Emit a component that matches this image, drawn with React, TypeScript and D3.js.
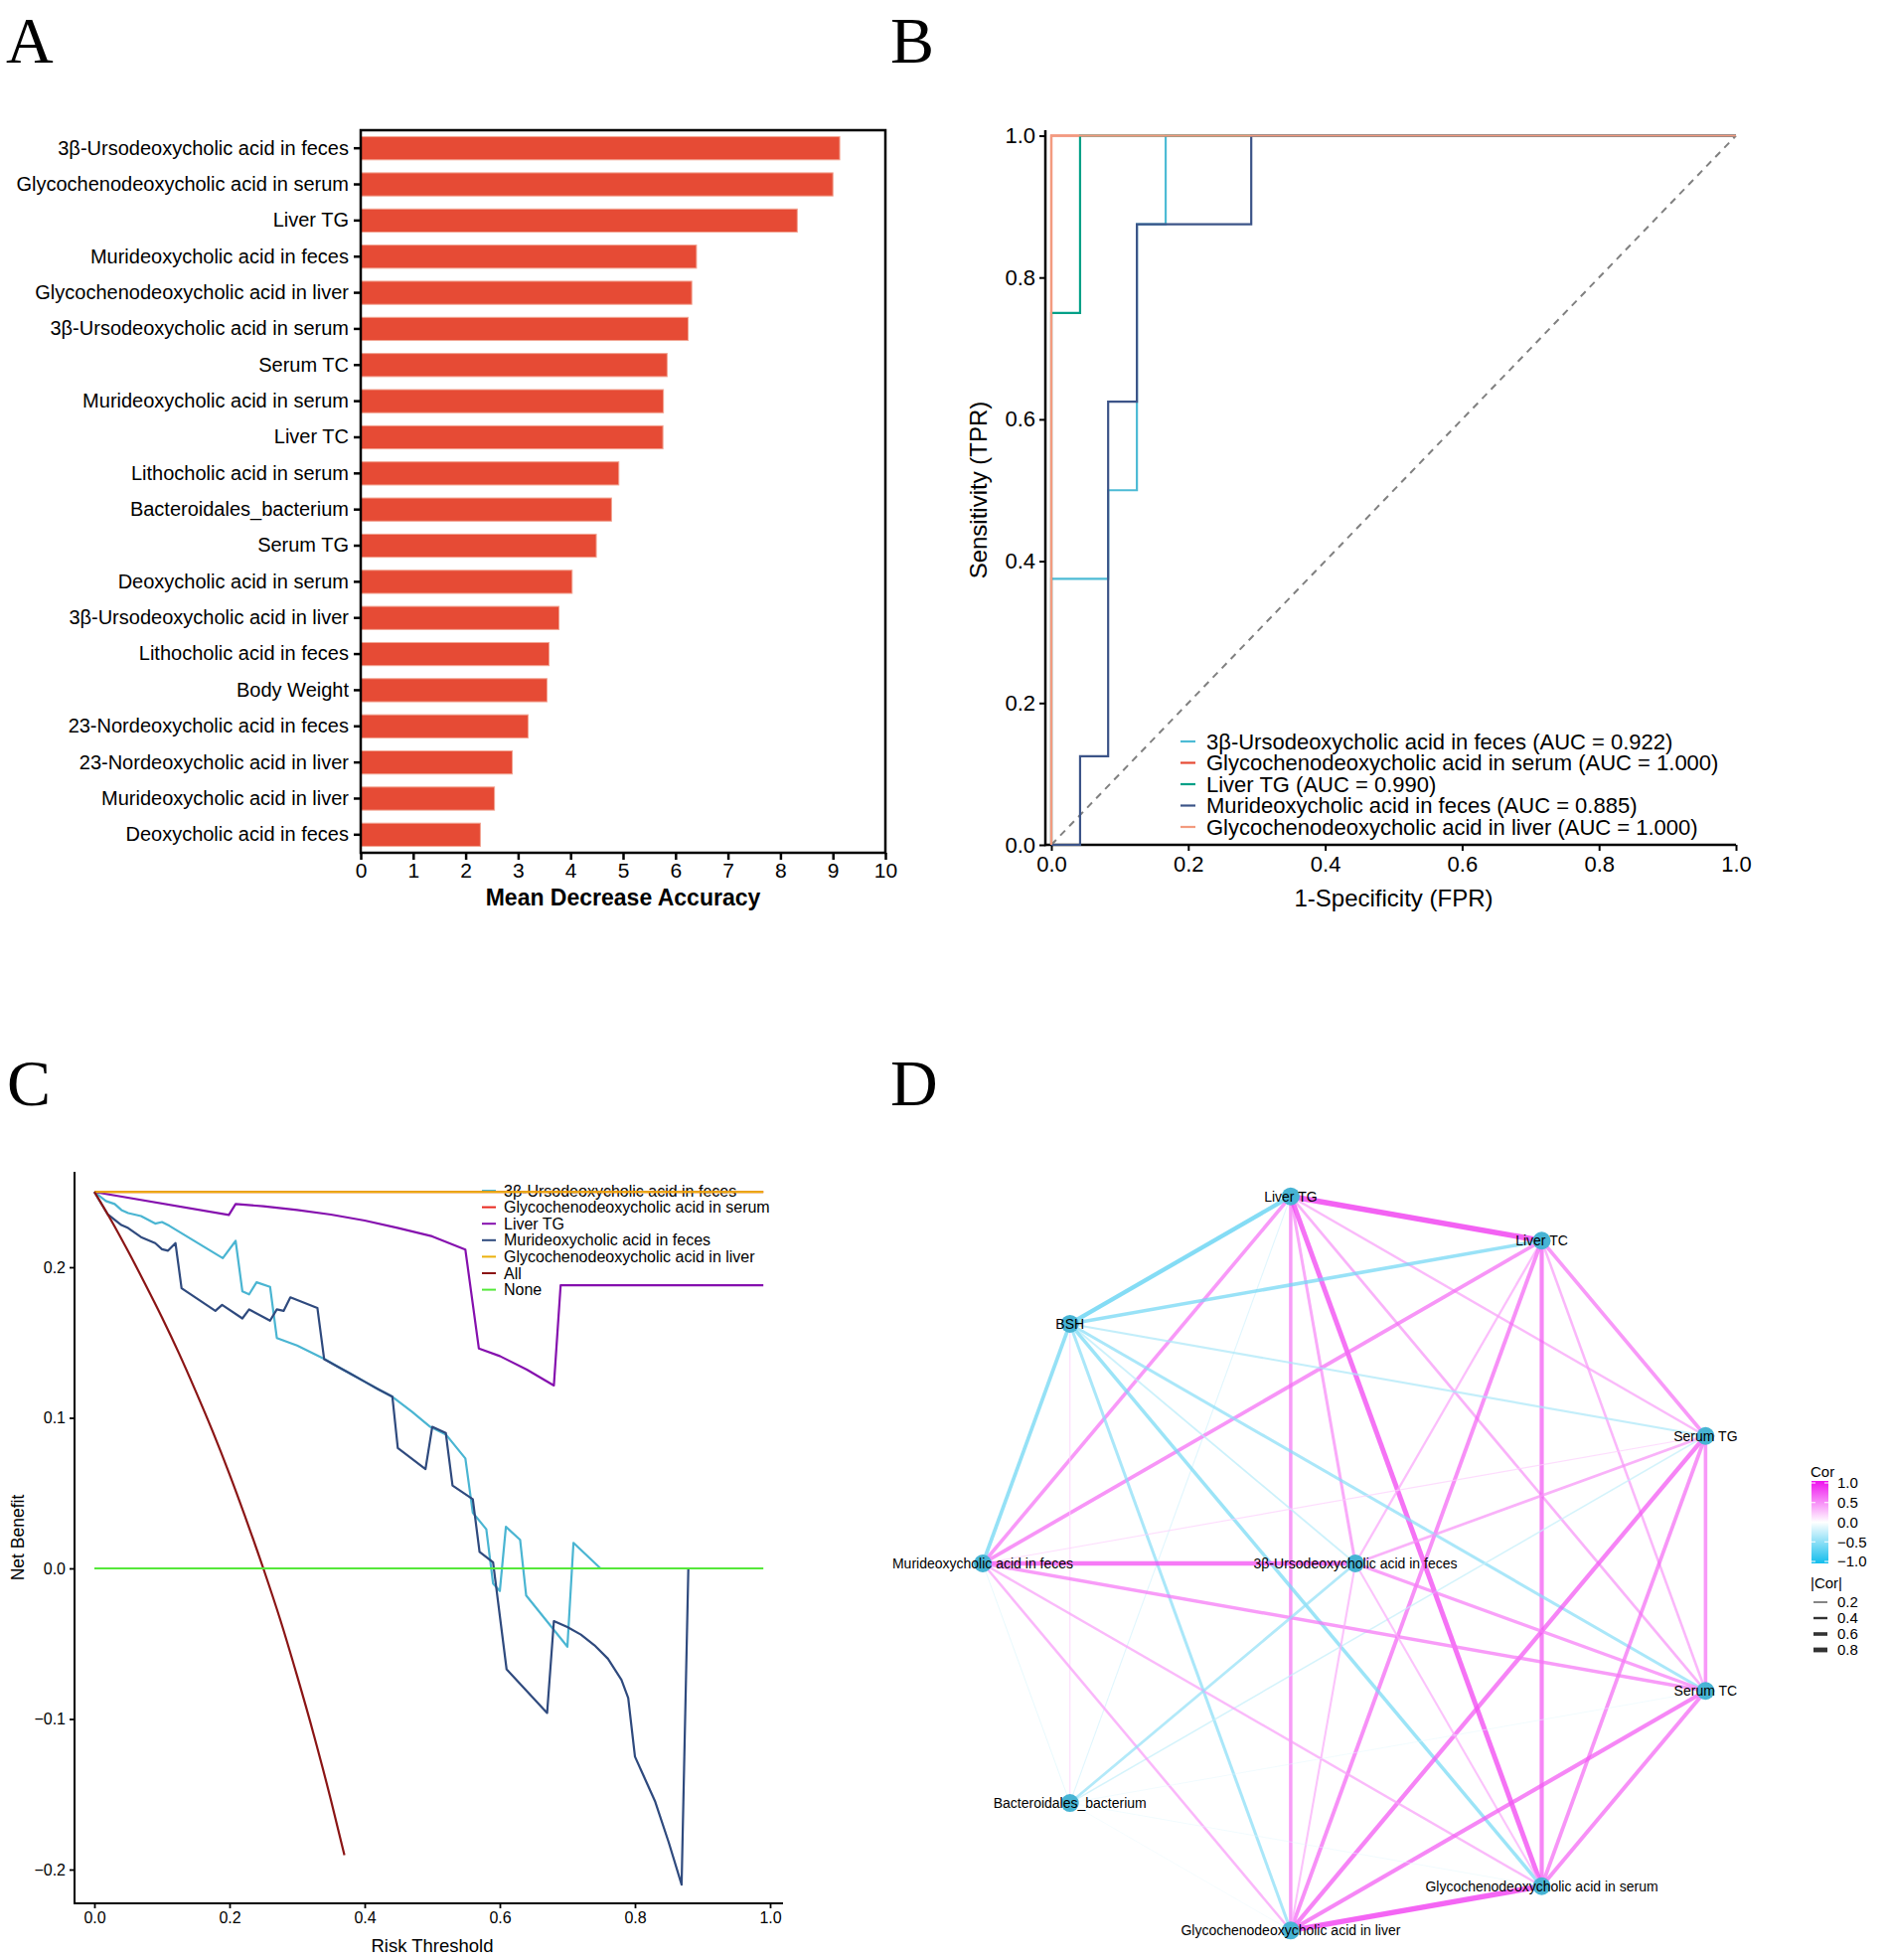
import React, { useRef, useEffect } from 'react';
import * as d3 from 'd3';

const FONT = '"Liberation Sans", Arial, Helvetica, sans-serif';
const SERIF = '"Liberation Serif", "Times New Roman", serif';

// ---- Panel A: random forest importance ----
const featureNames = [
    '3β-Ursodeoxycholic acid in feces',
    'Glycochenodeoxycholic acid in serum',
    'Liver TG',
    'Murideoxycholic acid in feces',
    'Glycochenodeoxycholic acid in liver',
    '3β-Ursodeoxycholic acid in serum',
    'Serum TC',
    'Murideoxycholic acid in serum',
    'Liver TC',
    'Lithocholic acid in serum',
    'Bacteroidales_bacterium',
    'Serum TG',
    'Deoxycholic acid in serum',
    '3β-Ursodeoxycholic acid in liver',
    'Lithocholic acid in feces',
    'Body Weight',
    '23-Nordeoxycholic acid in feces',
    '23-Nordeoxycholic acid in liver',
    'Murideoxycholic acid in liver',
    'Deoxycholic acid in feces',
];
const featureImportance = [9.13, 9.0, 8.32, 6.4, 6.31, 6.24, 5.84, 5.77, 5.76, 4.92, 4.78, 4.49, 4.03, 3.78, 3.59, 3.55, 3.19, 2.89, 2.55, 2.28];
const importanceTicks = [0, 1, 2, 3, 4, 5, 6, 7, 8, 9, 10];

// ---- Panel B: ROC ----
const rocNames = [
    '3β-Ursodeoxycholic acid in feces',
    'Glycochenodeoxycholic acid in serum',
    'Liver TG',
    'Murideoxycholic acid in feces',
    'Glycochenodeoxycholic acid in liver',
];
const rocAuc = ['0.922', '1.000', '0.990', '0.885', '1.000'];
const rocColors = ['#4DBBD5', '#E64B35', '#00A087', '#3C5488', '#F39B7F'];
const rocFpr = [
    [0, 0, 0.083, 0.083, 0.125, 0.125, 0.167, 0.167, 1],
    [0, 0, 1],
    [0, 0, 0.042, 0.042, 1],
    [0, 0.042, 0.042, 0.083, 0.083, 0.125, 0.125, 0.292, 0.292, 1],
    [0, 0, 1],
];
const rocTpr = [
    [0, 0.375, 0.375, 0.5, 0.5, 0.875, 0.875, 1, 1],
    [0, 1, 1],
    [0, 0.75, 0.75, 1, 1],
    [0, 0, 0.125, 0.125, 0.625, 0.625, 0.875, 0.875, 1, 1],
    [0, 1, 1],
];
const rocTicks = [0, 0.2, 0.4, 0.6, 0.8, 1.0];

// ---- Panel C: decision curves ----
const dcaNames = [
    '3β-Ursodeoxycholic acid in feces',
    'Glycochenodeoxycholic acid in serum',
    'Liver TG',
    'Murideoxycholic acid in feces',
    'Glycochenodeoxycholic acid in liver',
    'All',
    'None',
];
const dcaColors = ['#4AB5D2', '#E8281E', '#8510AE', '#2F4A7E', '#EBB10C', '#8B1515', '#55E83A'];
const dcaThreshold = [
    [0, 0.017, 0.03, 0.04, 0.05, 0.069, 0.09, 0.1, 0.111, 0.19, 0.209, 0.219, 0.229, 0.24, 0.26, 0.27, 0.3, 0.341, 0.36, 0.38, 0.4, 0.42, 0.441, 0.47, 0.497, 0.52, 0.549, 0.56, 0.58, 0.59, 0.6, 0.609, 0.63, 0.639, 0.7, 0.709, 0.749],
    [0, 0.99],
    [0, 0.199, 0.209, 0.25, 0.3, 0.35, 0.4, 0.45, 0.5, 0.549, 0.569, 0.6, 0.64, 0.68, 0.69, 0.99],
    [0, 0.02, 0.04, 0.05, 0.069, 0.09, 0.1, 0.109, 0.12, 0.129, 0.179, 0.189, 0.219, 0.229, 0.26, 0.27, 0.28, 0.29, 0.33, 0.34, 0.36, 0.38, 0.4, 0.42, 0.441, 0.449, 0.49, 0.5, 0.52, 0.53, 0.56, 0.57, 0.59, 0.61, 0.67, 0.68, 0.7, 0.72, 0.74, 0.76, 0.78, 0.79, 0.8, 0.81, 0.83, 0.85, 0.869, 0.879],
    [0, 0.99],
    [0, 0.025, 0.05, 0.075, 0.1, 0.125, 0.15, 0.175, 0.2, 0.225, 0.25, 0.275, 0.3, 0.325, 0.35, 0.37],
    [0, 0.99],
];
const dcaBenefit = [
    [0.25, 0.244, 0.242, 0.238, 0.236, 0.234, 0.229, 0.23, 0.2275, 0.206, 0.2175, 0.184, 0.182, 0.19, 0.187, 0.153, 0.148, 0.139, 0.134, 0.129, 0.124, 0.119, 0.114, 0.104, 0.094, 0.089, 0.073, 0.037, 0.026, -0.01, -0.015, 0.0276, 0.019, -0.018, -0.052, 0.017, 0],
    [0.25, 0.25],
    [0.25, 0.2347, 0.242, 0.2405, 0.238, 0.235, 0.231, 0.226, 0.2205, 0.2117, 0.146, 0.141, 0.132, 0.1215, 0.188, 0.188],
    [0.25, 0.235, 0.228, 0.226, 0.22, 0.216, 0.212, 0.211, 0.216, 0.186, 0.171, 0.175, 0.166, 0.172, 0.1645, 0.172, 0.171, 0.18, 0.173, 0.139, 0.134, 0.129, 0.124, 0.119, 0.114, 0.08, 0.066, 0.094, 0.09, 0.055, 0.046, 0.011, 0.004, -0.067, -0.096, -0.035, -0.039, -0.044, -0.051, -0.06, -0.074, -0.086, -0.125, -0.135, -0.155, -0.182, -0.21, 0],
    [0.25, 0.25],
    [0.25, 0.231, 0.2105, 0.189, 0.1667, 0.143, 0.1176, 0.091, 0.0625, 0.032, 0, -0.034, -0.0714, -0.111, -0.1538, -0.1905],
    [0, 0],
];
const dcaXTicks = [0, 0.2, 0.4, 0.6, 0.8, 1.0];
const dcaYTicks = [-0.2, -0.1, 0, 0.1, 0.2];

// ---- Panel D: correlation network ----
const ringNodes = [
    'Liver TG',
    'Liver TC',
    'Serum TG',
    'Serum TC',
    'Glycochenodeoxycholic acid in serum',
    'Glycochenodeoxycholic acid in liver',
    'Bacteroidales_bacterium',
    'Murideoxycholic acid in feces',
    'BSH',
];
const centerNode = '3β-Ursodeoxycholic acid in feces';
const edgeFrom = [
    'Liver TG', 'Liver TG', 'Liver TG', 'Liver TG', 'Liver TG', 'Liver TG', 'Liver TG', 'Liver TG', 'Liver TG',
    'Liver TC', 'Liver TC', 'Liver TC', 'Liver TC', 'Liver TC', 'Liver TC', 'Liver TC',
    'BSH', 'BSH', 'BSH', 'BSH', 'BSH', 'BSH', 'BSH',
    'Serum TG', 'Serum TG', 'Serum TG', 'Serum TG', 'Serum TG', 'Serum TG',
    'Murideoxycholic acid in feces', 'Murideoxycholic acid in feces', 'Murideoxycholic acid in feces', 'Murideoxycholic acid in feces', 'Murideoxycholic acid in feces',
    centerNode, centerNode, centerNode, centerNode,
    'Serum TC', 'Serum TC', 'Serum TC',
    'Bacteroidales_bacterium', 'Bacteroidales_bacterium',
    'Glycochenodeoxycholic acid in serum',
];
const edgeTo = [
    'Liver TC', 'BSH', 'Murideoxycholic acid in feces', 'Bacteroidales_bacterium', 'Glycochenodeoxycholic acid in liver', centerNode, 'Glycochenodeoxycholic acid in serum', 'Serum TC', 'Serum TG',
    'BSH', 'Murideoxycholic acid in feces', centerNode, 'Glycochenodeoxycholic acid in liver', 'Glycochenodeoxycholic acid in serum', 'Serum TG', 'Serum TC',
    'Serum TG', 'Serum TC', centerNode, 'Glycochenodeoxycholic acid in serum', 'Glycochenodeoxycholic acid in liver', 'Murideoxycholic acid in feces', 'Bacteroidales_bacterium',
    'Murideoxycholic acid in feces', centerNode, 'Serum TC', 'Glycochenodeoxycholic acid in liver', 'Glycochenodeoxycholic acid in serum', 'Bacteroidales_bacterium',
    centerNode, 'Serum TC', 'Glycochenodeoxycholic acid in serum', 'Glycochenodeoxycholic acid in liver', 'Bacteroidales_bacterium',
    'Serum TC', 'Bacteroidales_bacterium', 'Glycochenodeoxycholic acid in liver', 'Glycochenodeoxycholic acid in serum',
    'Glycochenodeoxycholic acid in liver', 'Glycochenodeoxycholic acid in serum', 'Bacteroidales_bacterium',
    'Glycochenodeoxycholic acid in liver', 'Glycochenodeoxycholic acid in serum',
    'Glycochenodeoxycholic acid in liver',
];
const edgeCor = [
    0.92, -0.72, 0.6, -0.18, 0.58, 0.5, 0.82, 0.45, 0.4,
    -0.6, 0.62, 0.38, 0.65, 0.7, 0.6, 0.42,
    -0.35, -0.5, -0.3, -0.58, -0.5, -0.62, 0.2,
    0.2, 0.45, 0.6, 0.72, 0.62, -0.25,
    0.78, 0.58, 0.4, 0.42, -0.15,
    0.55, -0.45, 0.35, 0.35,
    0.7, 0.65, -0.12,
    -0.1, -0.12,
    0.9,
];
const corTicks = [1.0, 0.5, 0.0, -0.5, -1.0];
const absCorTicks = [0.2, 0.4, 0.6, 0.8];

type Sel = d3.Selection<SVGGElement, unknown, null, undefined>;

function styleAxis(g: Sel, fontSize: number, strokeWidth: number) {
    g.select('.domain').remove();
    g.selectAll('line').attr('stroke', '#000').attr('stroke-width', strokeWidth);
    g.selectAll('text')
        .attr('fill', '#000')
        .style('font-family', FONT)
        .style('font-size', `${fontSize}px`);
}

function panelLetter(svg: any, letter: string, x: number, y: number) {
    svg.append('text')
        .attr('x', x).attr('y', y)
        .style('font-family', SERIF)
        .style('font-size', '66px')
        .text(letter);
}

function drawImportance(svg: any) {
    const g: Sel = svg.append('g');
    const x = d3.scaleLinear().domain([0, 10]).range([363, 891]);
    const y = d3.scaleBand().domain(featureNames).range([131, 858]).paddingInner(0.36).paddingOuter(0.18);

    g.selectAll('.bar')
        .data(featureNames)
        .join('rect')
        .attr('class', 'bar')
        .attr('x', x(0))
        .attr('y', d => y(d)!)
        .attr('width', (_d, i) => x(featureImportance[i]) - x(0))
        .attr('height', y.bandwidth())
        .attr('fill', '#E64B35')
        .attr('stroke', '#F2A391')
        .attr('stroke-width', 1);

    // full frame
    g.append('rect')
        .attr('x', 363).attr('y', 131)
        .attr('width', 891 - 363).attr('height', 858 - 131)
        .attr('fill', 'none').attr('stroke', '#000').attr('stroke-width', 2.5);

    const left = g.append('g').attr('transform', 'translate(363,0)')
        .call(d3.axisLeft(y).tickSize(7).tickPadding(5));
    styleAxis(left, 20, 2.5);

    const bottom = g.append('g').attr('transform', 'translate(0,858)')
        .call(d3.axisBottom(x).tickValues(importanceTicks).tickSize(7).tickPadding(3).tickFormat(d3.format('d')));
    styleAxis(bottom, 21, 2.5);

    g.append('text')
        .attr('x', (x(0) + x(10)) / 2).attr('y', 911)
        .attr('text-anchor', 'middle')
        .style('font-family', FONT).style('font-size', '23px').style('font-weight', 'bold')
        .text('Mean Decrease Accuracy');
}

function drawRoc(svg: any) {
    const g: Sel = svg.append('g');
    const x = d3.scaleLinear().domain([0, 1]).range([1058, 1747]);
    const y = d3.scaleLinear().domain([0, 1]).range([850, 136.5]);

    g.append('line').attr('x1', 1052).attr('x2', 1052).attr('y1', 131).attr('y2', 851.2)
        .attr('stroke', '#000').attr('stroke-width', 2.5);
    g.append('line').attr('x1', 1052).attr('x2', x(1)).attr('y1', 850).attr('y2', 850)
        .attr('stroke', '#000').attr('stroke-width', 2.5);

    const left = g.append('g').attr('transform', 'translate(1052,0)')
        .call(d3.axisLeft(y).tickValues(rocTicks).tickSize(6).tickPadding(4).tickFormat(d3.format('.1f')));
    styleAxis(left, 22, 2);
    const bottom = g.append('g').attr('transform', 'translate(0,850)')
        .call(d3.axisBottom(x).tickValues(rocTicks).tickSize(6).tickPadding(5).tickFormat(d3.format('.1f')));
    styleAxis(bottom, 22, 2);

    g.append('line')
        .attr('x1', x(0)).attr('y1', y(0)).attr('x2', x(1)).attr('y2', y(1))
        .attr('stroke', '#808080').attr('stroke-width', 2).attr('stroke-dasharray', '7,6');

    const line = d3.line<[number, number]>().x(d => x(d[0])).y(d => y(d[1]));
    rocNames.forEach((_n, i) => {
        const pts = rocFpr[i].map((f, j) => [f, rocTpr[i][j]] as [number, number]);
        g.append('path').attr('d', line(pts)!)
            .attr('fill', 'none').attr('stroke', rocColors[i]).attr('stroke-width', 2.2);
    });

    const leg = g.append('g');
    rocNames.forEach((n, i) => {
        const ly = 746 + i * 21.5;
        leg.append('line').attr('x1', 1188).attr('x2', 1203).attr('y1', ly).attr('y2', ly)
            .attr('stroke', rocColors[i]).attr('stroke-width', 2.2);
        leg.append('text').attr('x', 1214).attr('y', ly).attr('dy', '0.35em')
            .style('font-family', FONT).style('font-size', '22px')
            .text(`${n} (AUC = ${rocAuc[i]})`);
    });

    g.append('text')
        .attr('x', (x(0) + x(1)) / 2).attr('y', 912)
        .attr('text-anchor', 'middle')
        .style('font-family', FONT).style('font-size', '24px')
        .text('1-Specificity (FPR)');
    g.append('text')
        .attr('transform', 'translate(993,493) rotate(-90)')
        .attr('text-anchor', 'middle')
        .style('font-family', FONT).style('font-size', '24px')
        .text('Sensitivity (TPR)');
}

function drawDca(svg: any) {
    const g: Sel = svg.append('g');
    const x = d3.scaleLinear().domain([0, 1]).range([95, 775]);
    const y = d3.scaleLinear().domain([0, 0.2]).range([1578, 1275]);

    g.append('line').attr('x1', 75).attr('x2', 75).attr('y1', 1179).attr('y2', 1916)
        .attr('stroke', '#000').attr('stroke-width', 2);
    g.append('line').attr('x1', 74).attr('x2', 788).attr('y1', 1915).attr('y2', 1915)
        .attr('stroke', '#000').attr('stroke-width', 2);

    const left = g.append('g').attr('transform', 'translate(75,0)')
        .call(d3.axisLeft(y).tickValues(dcaYTicks).tickSize(5).tickPadding(4).tickFormat(d3.format('.1f')));
    styleAxis(left, 16, 1.8);
    const bottom = g.append('g').attr('transform', 'translate(0,1915)')
        .call(d3.axisBottom(x).tickValues(dcaXTicks).tickSize(5).tickPadding(4).tickFormat(d3.format('.1f')));
    styleAxis(bottom, 16, 1.8);

    // legend sits beneath the curves
    const leg = g.append('g');
    dcaNames.forEach((n, i) => {
        const ly = 1198 + i * 16.6;
        leg.append('line').attr('x1', 485).attr('x2', 499).attr('y1', ly).attr('y2', ly)
            .attr('stroke', dcaColors[i]).attr('stroke-width', 2);
        leg.append('text').attr('x', 507).attr('y', ly).attr('dy', '0.35em')
            .style('font-family', FONT).style('font-size', '16px')
            .text(n);
    });

    const line = d3.line<[number, number]>().x(d => x(d[0])).y(d => y(d[1]));
    const smooth = d3.line<[number, number]>().x(d => x(d[0])).y(d => y(d[1])).curve(d3.curveMonotoneX);
    dcaNames.forEach((n, i) => {
        const pts = dcaThreshold[i].map((t, j) => [t, dcaBenefit[i][j]] as [number, number]);
        g.append('path').attr('d', (n === 'All' ? smooth : line)(pts)!)
            .attr('fill', 'none').attr('stroke', dcaColors[i]).attr('stroke-width', 2.2)
            .attr('stroke-linejoin', 'round');
    });

    g.append('text')
        .attr('x', (x(0) + x(1)) / 2).attr('y', 1964)
        .attr('text-anchor', 'middle')
        .style('font-family', FONT).style('font-size', '18.5px')
        .text('Risk Threshold');
    g.append('text')
        .attr('transform', 'translate(24,1547) rotate(-90)')
        .attr('text-anchor', 'middle')
        .style('font-family', FONT).style('font-size', '17.5px')
        .text('Net Benefit');
}

function drawNetwork(svg: any) {
    const g: Sel = svg.append('g');
    const cx = 1364, cy = 1573, radius = 375;
    const angle = d3.scaleLinear().domain([0, ringNodes.length]).range([-100, 260]);
    const pos = new Map<string, [number, number]>();
    ringNodes.forEach((n, i) => {
        const a = (angle(i) * Math.PI) / 180;
        pos.set(n, [cx + radius * Math.cos(a), cy + radius * Math.sin(a)]);
    });
    pos.set(centerNode, [cx, cy]);

    const color = d3.scaleLinear<string>().domain([-1, 0, 1]).range(['#12BDEC', '#FFFFFF', '#EE12EE']);
    const width = d3.scaleLinear().domain([0, 1]).range([0, 6]);

    edgeFrom.forEach((f, i) => {
        const a = pos.get(f)!, b = pos.get(edgeTo[i])!;
        g.append('line')
            .attr('x1', a[0]).attr('y1', a[1]).attr('x2', b[0]).attr('y2', b[1])
            .attr('stroke', color(edgeCor[i]))
            .attr('stroke-opacity', 0.72)
            .attr('stroke-width', width(Math.abs(edgeCor[i])));
    });

    const allNodes = [...ringNodes, centerNode];
    g.selectAll('.node').data(allNodes).join('circle')
        .attr('class', 'node')
        .attr('cx', d => pos.get(d)![0]).attr('cy', d => pos.get(d)![1])
        .attr('r', 9).attr('fill', '#47B4D4');
    g.selectAll('.nlabel').data(allNodes).join('text')
        .attr('class', 'nlabel')
        .attr('x', d => pos.get(d)![0]).attr('y', d => pos.get(d)![1])
        .attr('dy', '0.35em').attr('text-anchor', 'middle')
        .style('font-family', FONT).style('font-size', '14px')
        .text(d => d);

    // legends
    const defs = svg.append('defs');
    const grad = defs.append('linearGradient').attr('id', 'corGrad')
        .attr('x1', 0).attr('x2', 0).attr('y1', 0).attr('y2', 1);
    [1, 0.5, 0, -0.5, -1].forEach((v, i) => {
        grad.append('stop').attr('offset', `${i * 25}%`).attr('stop-color', color(v));
    });
    const ly = d3.scaleLinear().domain([-1, 1]).range([1571, 1492]);
    g.append('text').attr('x', 1822).attr('y', 1486)
        .style('font-family', FONT).style('font-size', '15px').text('Cor');
    g.append('rect').attr('x', 1823).attr('y', ly(1) - 2).attr('width', 17).attr('height', ly(-1) - ly(1) + 4)
        .attr('fill', 'url(#corGrad)');
    corTicks.forEach(v => {
        g.append('line').attr('x1', 1823).attr('x2', 1827).attr('y1', ly(v)).attr('y2', ly(v))
            .attr('stroke', '#fff').attr('stroke-width', 1);
        g.append('line').attr('x1', 1836).attr('x2', 1840).attr('y1', ly(v)).attr('y2', ly(v))
            .attr('stroke', '#fff').attr('stroke-width', 1);
        g.append('text').attr('x', 1849).attr('y', ly(v)).attr('dy', '0.35em')
            .style('font-family', FONT).style('font-size', '15px')
            .text(d3.format('.1f')(v));
    });
    g.append('text').attr('x', 1822).attr('y', 1593).attr('dy', '0.35em')
        .style('font-family', FONT).style('font-size', '15px').text('|Cor|');
    absCorTicks.forEach((v, i) => {
        const yy = 1612 + i * 16;
        g.append('line').attr('x1', 1825).attr('x2', 1839).attr('y1', yy).attr('y2', yy)
            .attr('stroke', '#333').attr('stroke-width', width(v));
        g.append('text').attr('x', 1849).attr('y', yy).attr('dy', '0.35em')
            .style('font-family', FONT).style('font-size', '15px')
            .text(d3.format('.1f')(v));
    });
}

export default function App() {
    const svgRef = useRef<SVGSVGElement>(null);

    useEffect(() => {
        if (!svgRef.current) return;
        const svg = d3.select(svgRef.current);
        svg.selectAll('*').remove();

        drawImportance(svg);
        drawRoc(svg);
        drawDca(svg);
        drawNetwork(svg);

        panelLetter(svg, 'A', 6, 63);
        panelLetter(svg, 'B', 896, 63);
        panelLetter(svg, 'C', 7, 1112);
        panelLetter(svg, 'D', 896, 1112);
    }, []);

    return (
        <div style={{ position: 'absolute', left: 0, top: 0 }}>
            <svg ref={svgRef} width={1902} height={1972} style={{ display: 'block', background: '#fff' }} />
        </div>
    );
}
